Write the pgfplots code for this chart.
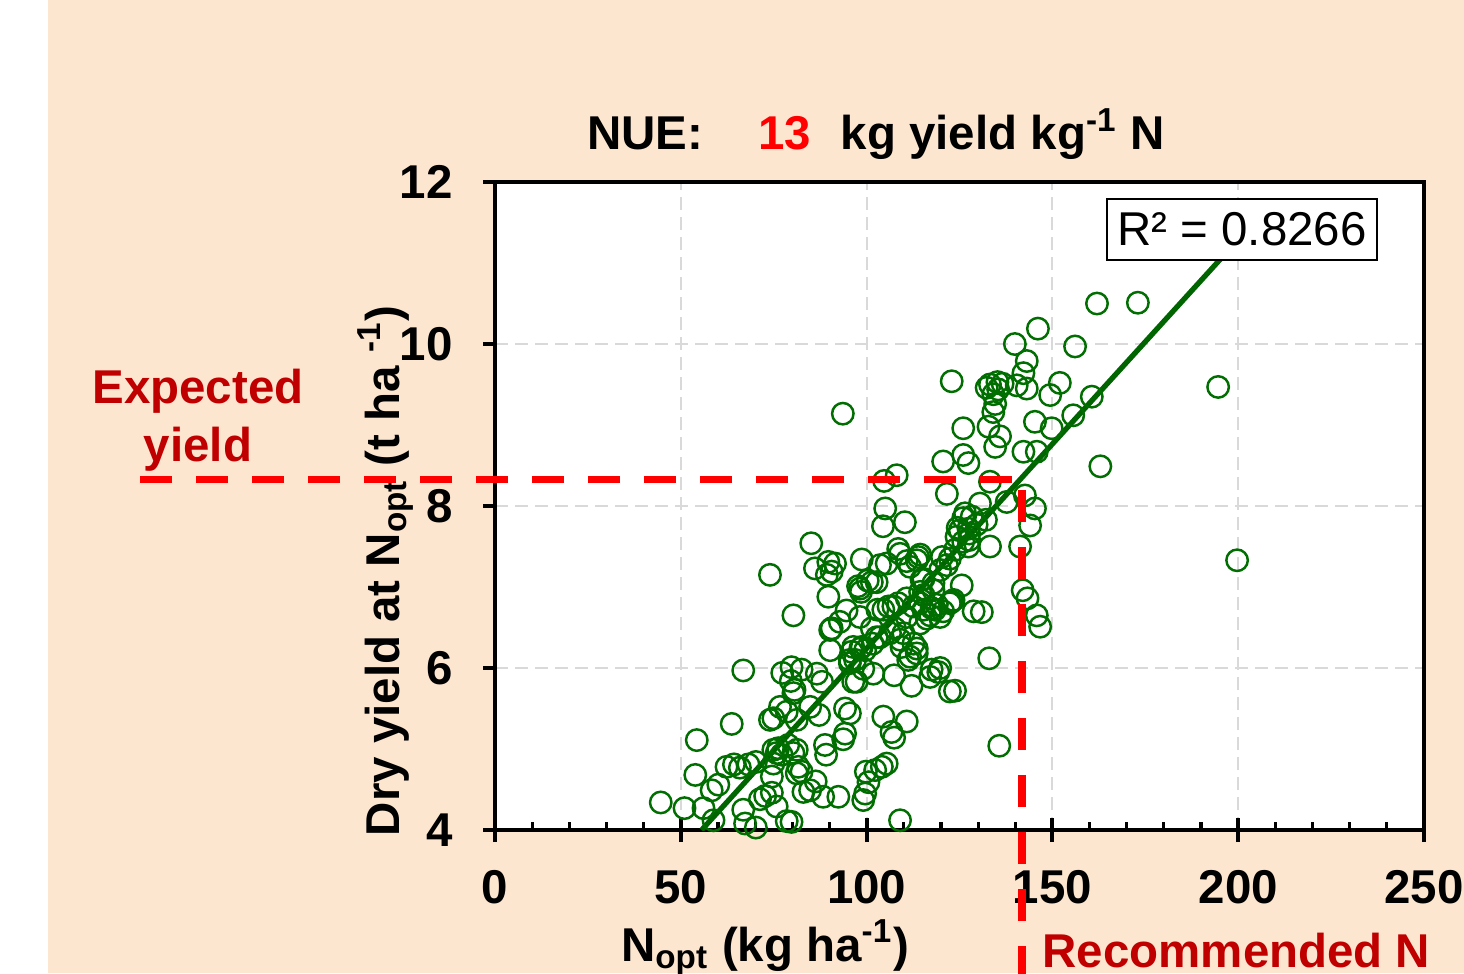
\documentclass[border=0pt]{standalone}
\usepackage{fontspec}
\setmainfont{Liberation Sans}
\usepackage{pgfplots}
\pgfplotsset{compat=1.18}
\definecolor{peach}{RGB}{253,230,208}
\definecolor{mkgreen}{RGB}{0,110,0}
\definecolor{linegreen}{RGB}{0,100,0}
\definecolor{darkred}{RGB}{192,0,0}
\definecolor{gridgray}{RGB}{217,217,217}

\begin{document}
\fontsize{13.5}{16}\selectfont
\begin{tikzpicture}
\useasboundingbox (0,0) rectangle (14.64,9.73);
\fill[white] (0,0) rectangle (14.64,9.73);
\fill[peach] (0.48,0) rectangle (14.64,9.73);
\begin{axis}[
  at={(4.95cm,1.43cm)}, anchor=south west,
  scale only axis, width=9.29cm, height=6.48cm,
  xmin=0, xmax=250, ymin=4, ymax=12,
  xtick={0,50,...,250}, ytick={4,6,...,12},
  minor x tick num=4,
  xtick pos=bottom, ytick pos=left,
  xtick align=inside, ytick align=outside,
  major tick length=1.2mm, minor tick length=0.8mm,
  tick style={black, line width=1.1pt},
  minor tick style={black, line width=0.9pt},
  extra x ticks={0,50,...,250},
  extra x tick labels={\mbox{},\mbox{},\mbox{},\mbox{},\mbox{},\mbox{}},
  extra x tick style={xtick align=outside, grid=none},
  axis line style={line width=1.1pt},
  axis background/.style={fill=white},
  xmajorgrids, ymajorgrids,
  grid style={gridgray, line width=0.6pt, dash pattern=on 1.3mm off 0.7mm},
  /pgf/number format/assume math mode=true,
  xticklabel style={font=\bfseries, yshift=-2.4mm},
  yticklabel style={font=\bfseries, xshift=-1.4mm},
]
\addplot[only marks, mark=o, mark size=3.05pt, mkgreen, mark options={line width=0.7pt}] table {
x y
44.6 4.34
51.0 4.27
56.1 4.27
54.3 5.11
53.9 4.68
58.3 4.49
60.1 4.56
58.8 4.12
63.7 5.31
66.8 5.97
62.3 4.78
64.3 4.81
65.9 4.77
68.2 4.81
70.2 4.84
66.8 4.25
67.3 4.08
70.2 4.03
72.7 4.42
71.3 4.38
74.5 4.46
75.8 4.29
78.5 4.11
79.8 4.10
74.9 4.99
76.2 5.01
78.9 5.05
75.8 4.95
74.9 4.82
74.5 4.66
77.1 4.93
80.3 4.95
74.0 5.36
76.7 5.52
78.5 5.46
74.9 5.38
81.2 5.36
77.3 5.94
79.8 6.01
79.6 5.84
80.6 5.73
82.5 5.98
86.6 5.93
88.0 5.83
80.3 5.69
84.8 5.52
87.2 5.42
81.2 4.99
81.6 4.78
82.5 4.72
81.2 4.70
83.0 4.47
84.8 4.49
86.3 4.60
88.3 4.41
92.4 4.41
88.8 5.05
89.1 4.93
93.7 5.12
94.2 5.19
95.5 5.44
94.2 5.50
96.4 5.83
96.9 6.10
99.6 6.22
90.2 6.22
96.4 6.26
98.3 6.24
99.8 4.72
102.3 4.74
105.4 4.82
104.1 4.78
100.5 4.59
99.6 4.45
99.1 4.37
109.0 4.12
101.8 5.93
107.4 5.91
112.1 5.78
117.1 5.89
119.3 5.95
122.4 5.71
104.5 5.40
110.8 5.34
106.7 5.21
107.4 5.14
80.3 6.65
89.7 6.88
90.6 6.49
92.8 6.57
94.6 6.71
101.6 6.30
103.6 6.38
101.4 6.49
102.9 6.72
105.9 6.76
108.5 6.80
110.8 6.63
107.6 6.49
109.0 6.35
112.6 6.30
113.5 6.24
111.7 6.14
109.4 6.26
111.2 6.10
98.5 6.94
97.7 7.01
100.3 7.08
102.7 7.06
98.7 7.34
103.6 7.27
105.4 7.29
108.5 7.47
110.8 7.32
113.9 7.37
115.3 6.90
117.5 6.74
118.0 7.05
114.4 6.94
110.8 6.86
114.4 6.80
113.5 7.33
114.8 7.09
111.7 7.25
115.3 7.10
74.0 7.15
85.1 7.54
86.1 7.23
89.7 7.31
91.5 7.29
89.3 7.15
90.6 7.19
104.7 8.31
108.1 8.38
105.0 7.97
104.4 7.75
110.3 7.80
93.6 9.14
118.4 6.72
116.2 6.61
120.6 6.70
122.9 6.82
125.6 7.02
121.6 7.27
119.8 7.21
122.4 6.80
119.8 6.63
118.0 6.96
117.5 5.98
119.8 6.00
123.8 5.72
131.0 6.69
133.0 6.12
135.7 5.04
142.0 6.96
143.3 6.86
145.8 6.65
146.7 6.51
122.4 7.35
120.3 7.37
123.8 7.46
126.0 7.56
124.5 7.73
127.4 7.72
128.3 7.87
132.1 7.83
130.5 8.03
126.0 7.85
129.6 7.77
127.4 7.50
133.2 7.50
124.2 7.62
120.6 8.55
126.0 8.63
127.4 8.53
121.6 8.15
133.2 8.30
137.7 8.05
142.6 8.13
145.3 7.97
144.0 7.76
141.3 7.50
126.0 8.96
132.8 8.98
135.9 8.86
134.6 8.73
142.2 8.67
145.8 8.67
145.3 9.04
149.8 8.96
155.6 9.12
160.6 9.35
122.9 9.54
133.2 9.50
135.2 9.53
136.6 9.51
132.3 9.46
134.1 9.38
135.4 9.44
134.6 9.26
134.1 9.16
140.4 9.49
143.1 9.45
139.9 10.00
143.1 9.79
142.2 9.64
146.1 10.19
156.1 9.97
152.0 9.52
149.4 9.37
162.0 10.50
173.0 10.51
194.6 9.47
199.7 7.33
162.9 8.49
90.2 6.47
96.0 6.20
95.5 6.10
98.7 6.26
98.2 6.63
98.2 6.98
101.4 7.06
104.5 6.72
107.2 6.76
109.0 7.41
114.4 7.40
123.4 6.84
118.9 6.78
117.1 6.65
115.3 6.72
112.6 6.76
114.4 6.55
109.9 6.43
106.3 6.43
102.7 6.38
113.5 6.18
99.1 5.99
97.3 5.83
95.5 6.06
128.8 6.70
126.5 7.91
127.6 7.66
125.1 7.70
127.6 7.58
};
\addplot[linegreen, line width=1.5pt] coordinates {(55.6,4.0) (200,11.29)};
\end{axis}
% R^2 box
\node[draw=black, line width=0.6pt, fill=white, minimum width=2.7cm, minimum height=0.61cm, inner sep=0pt] at (12.42,7.435) {R² = 0.8266};
% title
\node[anchor=base, font=\bfseries, inner sep=0pt] at (8.76,8.23) {NUE:\hspace{5.5mm}\textcolor{red}{13}\hspace{3mm}kg yield kg\textsuperscript{-1} N};
% axis labels
\node[anchor=base, font=\bfseries, inner sep=0pt] at (7.65,0.12) {N\textsubscript{opt} (kg ha\textsuperscript{-1})};
\node[anchor=base, rotate=90, font=\bfseries, inner sep=0pt] at (3.99,4.02) {Dry yield at N\textsubscript{opt} (t ha \textsuperscript{-1})};
% annotations
\draw[red, line width=2.1pt, dash pattern=on 3.2mm off 2.4mm] (1.40,4.933) -- (10.21,4.933);
\draw[red, line width=2.1pt, dash pattern=on 3.2mm off 2.5mm] (10.22,4.83) -- (10.22,-0.3);
\node[anchor=base, darkred, font=\bfseries, inner sep=0pt] at (1.98,5.69) {Expected};
\node[anchor=base, darkred, font=\bfseries, inner sep=0pt] at (1.98,5.11) {yield};
\node[anchor=base west, darkred, font=\bfseries, inner sep=0pt] at (10.42,0.06) {Recommended N};
\end{tikzpicture}
\end{document}
